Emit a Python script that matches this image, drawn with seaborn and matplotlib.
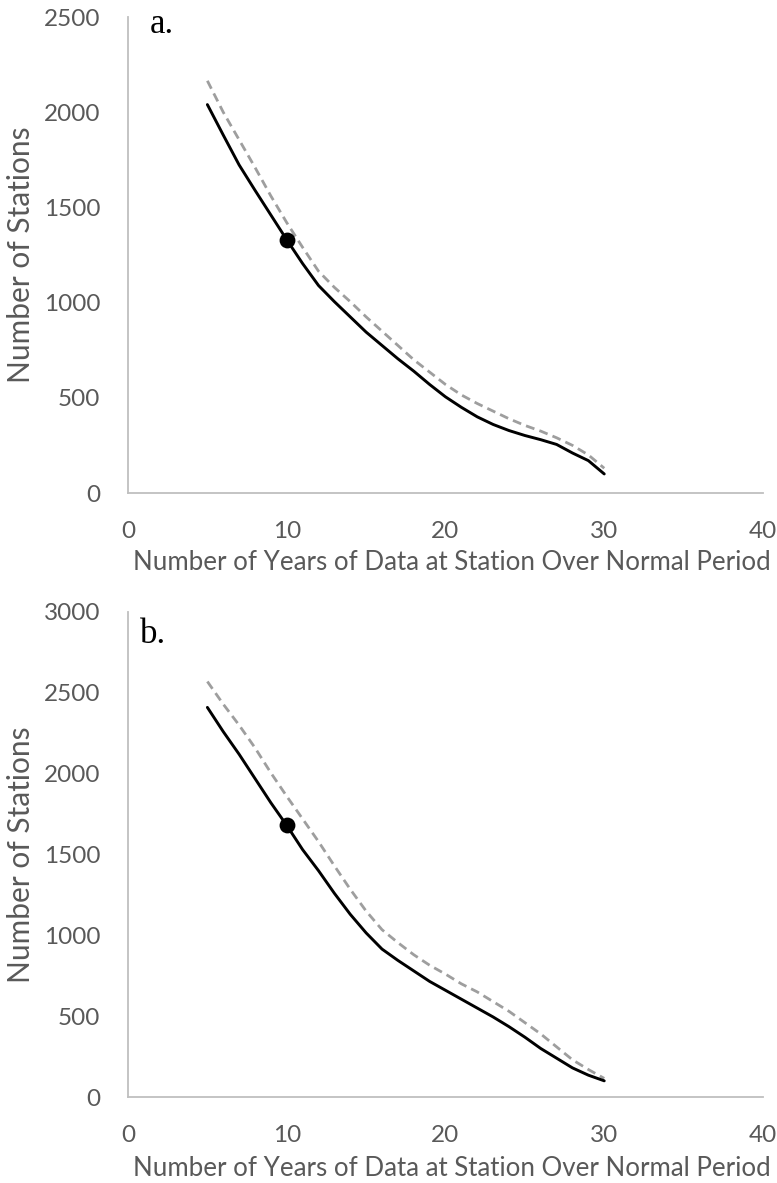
import matplotlib
matplotlib.use("Agg")
import matplotlib.pyplot as plt
import seaborn as sns
import pandas as pd

# ---- data ----
years = list(range(5, 31))
a_solid = [2040, 1880, 1723, 1590, 1460, 1330, 1205, 1090, 1005, 925, 845, 775, 705,
           640, 570, 505, 450, 400, 360, 328, 302, 280, 255, 210, 170, 100]
a_dashed = [2165, 2000, 1855, 1710, 1560, 1420, 1290, 1165, 1080, 1005, 925, 850, 775,
            700, 635, 570, 515, 470, 430, 390, 355, 325, 290, 250, 200, 130]
b_solid = [2410, 2260, 2120, 1970, 1820, 1680, 1530, 1400, 1260, 1130, 1015, 915, 845,
           780, 715, 660, 605, 550, 495, 435, 370, 300, 240, 180, 135, 100]
b_dashed = [2570, 2430, 2300, 2160, 2005, 1860, 1720, 1580, 1430, 1285, 1150, 1035, 955,
            880, 815, 760, 700, 650, 590, 530, 460, 390, 310, 230, 170, 115]
marker_x = 10
a_marker = 1330
b_marker = 1680

x_ticks = [0, 10, 20, 30, 40]
a_yticks = [0, 500, 1000, 1500, 2000, 2500]
b_yticks = [0, 500, 1000, 1500, 2000, 2500, 3000]
xlabel = "Number of Years of Data at Station Over Normal Period"
ylabel = "Number of Stations"
panel_labels = ["a.", "b."]

sns.set_style("white")
plt.rcParams["font.family"] = ["Lato", "DejaVu Sans"]

W, H = 777, 1183
fig = plt.figure(figsize=(W / 100, H / 100), dpi=100)

def px_axes(left, right, top, bottom):
    return fig.add_axes([left / W, 1 - bottom / H, (right - left) / W, (bottom - top) / H])

ax_a = px_axes(128, 763, 17, 493)
ax_b = px_axes(128, 763, 612, 1097)

tick_color = "#595959"
spine_color = "#BFBFBF"

def draw(ax, solid, dashed, mval, yticks, label, lab_xy):
    df = pd.DataFrame({"x": years, "solid": solid, "dashed": dashed})
    sns.lineplot(data=df, x="x", y="dashed", ax=ax, color="#9E9E9E", linewidth=2.0,
                 dashes=False, linestyle=(0, (3.2, 1.9)))
    sns.lineplot(data=df, x="x", y="solid", ax=ax, color="black", linewidth=2.1)
    mdf = pd.DataFrame({"x": [marker_x], "y": [mval]})
    sns.scatterplot(data=mdf, x="x", y="y", ax=ax, color="black", s=130, zorder=5,
                    edgecolor="black", linewidth=0)
    ax.set_xlim(0, 40)
    ax.set_ylim(0, yticks[-1])
    ax.set_xticks(x_ticks)
    ax.set_yticks(yticks)
    ax.tick_params(axis="both", length=0, labelsize=17.5, labelcolor=tick_color, pad=20)
    for s in ["top", "right"]:
        ax.spines[s].set_visible(False)
    for s in ["left", "bottom"]:
        ax.spines[s].set_color(spine_color)
        ax.spines[s].set_linewidth(1.3)
    ax.set_xlabel(xlabel, fontsize=18.6, color=tick_color)
    ax.set_ylabel(ylabel, fontsize=21.5, color=tick_color)
    ax.xaxis.label.set_va("center")
    ax.yaxis.label.set_va("center")
    ax.xaxis.set_label_coords(0.51, -0.147)
    ax.yaxis.set_label_coords(-0.168, 0.5)
    fig.text(lab_xy[0] / W, 1 - lab_xy[1] / H, label, family="Liberation Serif",
             fontsize=25, color="black", ha="left", va="baseline")

draw(ax_a, a_solid, a_dashed, a_marker, a_yticks, panel_labels[0], (150, 33))
draw(ax_b, b_solid, b_dashed, b_marker, b_yticks, panel_labels[1], (140, 643))

fig.savefig("out.png", dpi=100)
